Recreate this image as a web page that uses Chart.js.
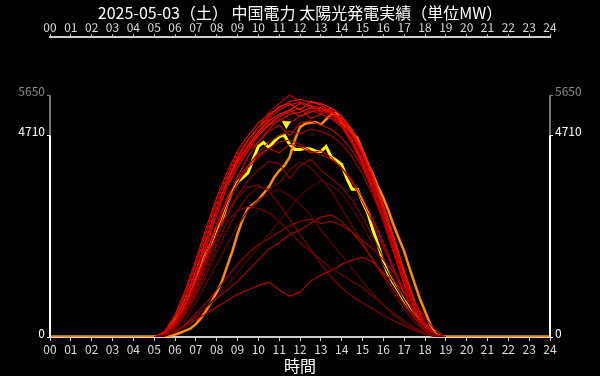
<!DOCTYPE html>
<html>
<head>
<meta charset="utf-8">
<script src="https://cdn.jsdelivr.net/npm/chart.js"></script>
<style>
    body { margin: 0; background: #000; }
    #wrap { width: 600px; height: 376px; }
</style>
</head>
<body>
<div id="wrap">
    <canvas id="solarChart"></canvas>
</div>

<script>
    const title = '2025-05-03（土） 中国電力 太陽光発電実績（単位MW）';
    const xTitle = '時間';
    const yTicks = [0, 4710, 5650];   // 0 / 今日の最大 / 期間最大
    const yMax = 7000;

    // 15分毎 (今日・前日)
    const hoursFine = [0,
        5.0, 5.25, 5.5, 5.75, 6.0, 6.25, 6.5, 6.75, 7.0, 7.25, 7.5, 7.75,
        8.0, 8.25, 8.5, 8.75, 9.0, 9.25, 9.5, 9.75, 10.0, 10.25, 10.5, 10.75,
        11.0, 11.25, 11.5, 11.75, 12.0, 12.25, 12.5, 12.75, 13.0, 13.25, 13.5, 13.75,
        14.0, 14.25, 14.5, 14.75, 15.0, 15.25, 15.5, 15.75, 16.0, 16.25, 16.5, 16.75,
        17.0, 17.25, 17.5, 17.75, 18.0, 18.25, 18.5, 18.75, 19.0,
        24];

    const today = [0,
        0, 15, 80, 190, 370, 590, 850, 1140, 1420, 1700, 1950, 2200,
        2520, 2700, 3100, 3400, 3620, 3720, 3830, 4150, 4450, 4540, 4430, 4560,
        4680, 4710, 4500, 4380, 4380, 4400, 4390, 4340, 4330, 4450, 4200, 4120,
        4030, 3700, 3450, 3450, 3160, 2900, 2500, 2150, 1750, 1450, 1250, 1050,
        850, 680, 530, 360, 220, 130, 60, 10, 0,
        0];

    const yesterday = [0,
        0, 0, 10, 30, 60, 100, 150, 200, 300, 440, 620, 820,
        1040, 1300, 1650, 2000, 2400, 2750, 3000, 3100, 3200, 3350, 3500, 3720,
        3880, 4000, 4200, 4600, 4900, 4980, 5000, 5020, 4960, 5080, 5200, 5230,
        5000, 4900, 4750, 4650, 4350, 4050, 3800, 3500, 3250, 2950, 2600, 2300,
        2000, 1620, 1250, 900, 600, 300, 80, 0, 0,
        0];

    // 30分毎 (過去の日)
    const hoursCoarse = [5.0, 5.5, 6.0, 6.5, 7.0, 7.5, 8.0, 8.5, 9.0, 9.5, 10.0, 10.5,
        11.0, 11.5, 12.0, 12.5, 13.0, 13.5, 14.0, 14.5, 15.0, 15.5, 16.0, 16.5,
        17.0, 17.5, 18.0, 18.5, 19.0];

    const pastDays = [
        // 曇り・雨の日 (暗い色)
        [0, 20, 100, 250, 450, 700, 950, 1200, 1500, 1800, 2100, 2400, 2700, 3000, 3300, 3500, 3650, 3550, 3350, 3000, 2600, 2150, 1700, 1250, 850, 480, 180, 25, 0],
        [0, 35, 160, 420, 800, 1250, 1700, 2150, 2600, 2950, 3200, 3350, 3450, 3300, 3100, 2850, 2500, 2200, 1900, 1600, 1300, 1000, 750, 500, 320, 180, 60, 10, 0],
        [0, 40, 200, 550, 1000, 1550, 2150, 2700, 2950, 3050, 3000, 2900, 2700, 2450, 2200, 2000, 1800, 1600, 1450, 1300, 1150, 950, 750, 550, 380, 220, 80, 10, 0],
        [0, 45, 220, 600, 1100, 1700, 2300, 2850, 3250, 3500, 3550, 3400, 3100, 2750, 2400, 2050, 1700, 1400, 1150, 950, 800, 650, 500, 380, 260, 150, 60, 10, 0],
        [0, 30, 120, 300, 550, 800, 1100, 1400, 1700, 1950, 2150, 2300, 2450, 2600, 2700, 2750, 2650, 2700, 2600, 2450, 2250, 2050, 1800, 1500, 1150, 750, 350, 60, 0],
        [0, 25, 110, 280, 480, 700, 900, 1100, 1300, 1550, 1800, 2050, 2200, 2400, 2500, 2650, 2800, 2850, 2700, 2450, 2150, 1800, 1450, 1100, 750, 430, 160, 25, 0],
        [0, 30, 100, 250, 400, 550, 700, 850, 1000, 1100, 1200, 1280, 1100, 950, 1050, 1300, 1450, 1550, 1700, 1800, 1860, 1750, 1500, 1300, 1050, 800, 450, 150, 0],
        // 薄曇り
        [0, 40, 200, 520, 950, 1450, 2000, 2500, 2950, 3300, 3500, 3450, 3600, 3900, 4100, 3950, 3700, 3400, 3000, 2600, 2200, 1800, 1400, 1000, 650, 350, 120, 15, 0],
        [0, 50, 250, 650, 1200, 1800, 2400, 2900, 3300, 3650, 3900, 4100, 4050, 3700, 4000, 4150, 3900, 3700, 3500, 3200, 2800, 2350, 1850, 1350, 850, 450, 150, 20, 0],
        [0, 60, 280, 700, 1250, 1900, 2550, 3150, 3600, 3950, 4200, 4400, 4550, 4600, 4500, 4350, 4250, 4150, 3950, 3600, 3150, 2650, 2100, 1550, 1000, 520, 180, 25, 0],
        [0, 60, 290, 730, 1320, 1980, 2650, 3250, 3700, 4000, 4250, 4400, 4300, 4500, 4450, 4300, 4350, 4200, 3950, 3650, 3250, 2750, 2200, 1600, 1050, 560, 200, 30, 0],
        // 晴れの日
        [0, 40, 200, 550, 1050, 1700, 2400, 3050, 3600, 4000, 4300, 4550, 4700, 4800, 4750, 4850, 4800, 4700, 4500, 4200, 3800, 3300, 2700, 2000, 1300, 700, 250, 40, 0],
        [0, 75, 340, 830, 1450, 2180, 2900, 3550, 4050, 4500, 4900, 5250, 5450, 5650, 5500, 5350, 5300, 5150, 4900, 4500, 4000, 3400, 2720, 2000, 1300, 690, 240, 35, 0],
        [0, 85, 360, 870, 1500, 2250, 2980, 3600, 4050, 4350, 4550, 4800, 4950, 4700, 5000, 5050, 4950, 4850, 4650, 4350, 3950, 3400, 2750, 2050, 1330, 720, 260, 40, 0],
        [0, 50, 250, 650, 1200, 1850, 2550, 3200, 3750, 4200, 4550, 4850, 5100, 5000, 5150, 5300, 5200, 5100, 4900, 4600, 4150, 3550, 2850, 2100, 1380, 740, 270, 45, 0],
        [0, 70, 330, 820, 1450, 2200, 2950, 3550, 4050, 4400, 4750, 5000, 5150, 5250, 5350, 5100, 5200, 5300, 5050, 4700, 4250, 3650, 2950, 2200, 1450, 780, 290, 50, 0],
        [0, 60, 300, 780, 1400, 2100, 2850, 3500, 3950, 4350, 4700, 4950, 5050, 5200, 5250, 5350, 5300, 5250, 5050, 4750, 4300, 3750, 3050, 2300, 1500, 820, 300, 55, 0],
        [0, 110, 470, 1020, 1700, 2430, 3150, 3750, 4250, 4600, 4880, 5100, 5300, 5420, 5480, 5400, 5350, 5200, 4950, 4550, 4050, 3400, 2700, 1950, 1220, 640, 210, 30, 0],
        [0, 90, 380, 900, 1560, 2300, 3020, 3650, 4180, 4600, 4900, 5150, 5380, 5450, 5300, 5500, 5450, 5350, 5150, 4800, 4350, 3700, 3000, 2250, 1450, 780, 280, 45, 0],
        [0, 90, 390, 880, 1530, 2280, 3000, 3620, 4130, 4480, 4700, 4950, 5150, 5300, 5150, 5250, 5350, 5280, 5100, 4750, 4300, 3650, 2950, 2200, 1420, 760, 280, 45, 0],
        [0, 80, 360, 860, 1500, 2230, 2950, 3580, 4100, 4450, 4800, 5050, 5200, 5300, 5450, 5400, 5250, 5350, 5150, 4850, 4400, 3800, 3100, 2350, 1550, 850, 320, 60, 0],
        [0, 130, 520, 1100, 1800, 2550, 3250, 3850, 4350, 4700, 5000, 5200, 5350, 5500, 5550, 5480, 5420, 5250, 5000, 4600, 4100, 3450, 2750, 2000, 1250, 650, 220, 30, 0]
    ];

    const pastColors = [
        '#5a0000', '#6a0000', '#800000', '#8c0000', '#a00000', '#b00000', '#c80000',
        '#780000', '#900000', '#b00000', '#d00000',
        '#a80000', '#b80000', '#c80000', '#d80000', '#e00000', '#e81000',
        '#f00000', '#ff1000', '#ff0000', '#ff2000', '#ff0000'
    ];

    const ptsOf = (xs, ys) => ys.map((v, i) => ({ x: xs[i], y: v }));

    const datasets = pastDays.map((d, i) => ({
        data: ptsOf(hoursCoarse, d),
        borderColor: pastColors[i],
        borderWidth: 1.1
    }));
    datasets.push({ data: ptsOf(hoursFine, yesterday), borderColor: '#ff8c00', borderWidth: 2.5 });
    datasets.push({ data: ptsOf(hoursFine, today), borderColor: '#ffff00', borderWidth: 3 });

    const pad2 = v => String(v).padStart(2, '0');
    const tickColor = c => c.tick && c.tick.value === yTicks[2] ? '#888' : '#fff';

    // 縦軸の線 (最大値まで灰色、今日の最大まで白) と今日のピーク印
    const axisPlugin = {
        id: 'axisLines',
        afterDatasetsDraw(chart) {
            const ctx = chart.ctx;
            const y = chart.scales.y;
            const x = chart.scales.x;
            const p0 = y.getPixelForValue(0);
            const pMid = y.getPixelForValue(yTicks[1]);
            const pTop = y.getPixelForValue(yTicks[2]);
            ctx.save();
            ctx.lineWidth = 2;
            [x.left, x.right].forEach(px => {
                ctx.strokeStyle = '#777';
                ctx.beginPath(); ctx.moveTo(px, pTop); ctx.lineTo(px, pMid); ctx.stroke();
                ctx.strokeStyle = '#fff';
                ctx.beginPath(); ctx.moveTo(px, pMid); ctx.lineTo(px, p0); ctx.stroke();
            });
            const peak = Math.max(...today);
            const i = today.indexOf(peak);
            const tx = x.getPixelForValue(hoursFine[i]) + 2;
            const ty = y.getPixelForValue(peak) - 6;
            ctx.fillStyle = '#ffff00';
            ctx.beginPath();
            ctx.moveTo(tx, ty);
            ctx.lineTo(tx - 4.5, ty - 8);
            ctx.lineTo(tx + 4.5, ty - 8);
            ctx.closePath();
            ctx.fill();
            ctx.restore();
        }
    };

    const font = { family: '"Noto Sans CJK JP", "Noto Sans", sans-serif', size: 12 };

    const xAxis = (pos, h, tl, pad) => ({
        type: 'linear',
        position: pos,
        min: 0,
        max: 24,
        afterFit: s => { s.height = h; },
        ticks: { stepSize: 1, autoSkip: false, maxRotation: 0, color: '#ddd', font: font, padding: pad, callback: v => pad2(v) },
        grid: { drawOnChartArea: false, drawTicks: true, tickLength: tl, color: '#ccc', lineWidth: 1 },
        border: { color: '#ccc', width: 2 }
    });

    const yAxis = pos => ({
        type: 'linear',
        position: pos,
        min: 0,
        max: yMax,
        afterFit: s => { s.width = 50; },
        afterBuildTicks: s => { s.ticks = yTicks.map(v => ({ value: v })); },
        ticks: { color: tickColor, font: font, padding: 2, labelOffset: -4, callback: v => String(v) },
        grid: { drawOnChartArea: false, drawTicks: true, tickLength: 3, color: tickColor },
        border: { display: false }
    });

    const bottom = xAxis('bottom', 39, 4, 1);
    bottom.title = { display: true, text: xTitle, color: '#fff', padding: 0, font: { family: font.family, size: 16 } };

    new Chart(document.getElementById('solarChart'), {
        type: 'line',
        data: { datasets: datasets },
        options: {
            responsive: true,
            maintainAspectRatio: false,
            animation: false,
            elements: { point: { radius: 0 }, line: { tension: 0 } },
            layout: { padding: 0 },
            plugins: {
                legend: { display: false },
                tooltip: { enabled: false },
                title: {
                    display: true,
                    text: title,
                    color: '#fff',
                    padding: { top: 3, bottom: 1 },
                    font: { family: font.family, size: 16, weight: 'normal' }
                }
            },
            scales: {
                x: bottom,
                x2: xAxis('top', 14, 3, 0),
                y: yAxis('left'),
                y2: yAxis('right')
            }
        },
        plugins: [axisPlugin]
    });
</script>
</body>
</html>
